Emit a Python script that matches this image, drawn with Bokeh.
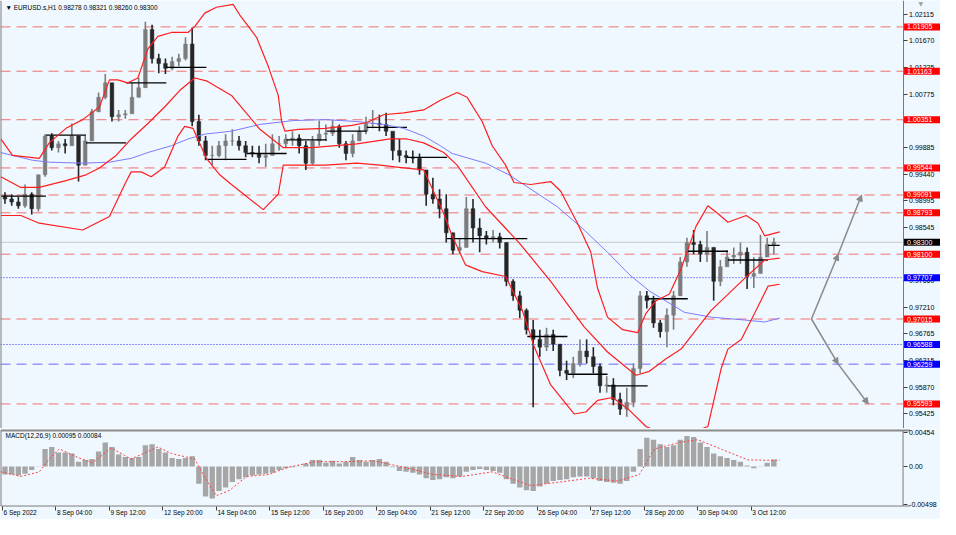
from bokeh.plotting import figure
from bokeh.layouts import column
from bokeh.models import (Range1d, FixedTicker, Label, Span, Arrow, NormalHead, PrintfTickFormatter,
                          LinearAxis)
from bokeh.embed import file_html
from bokeh.resources import INLINE

# ---------------- data (hour index 0 = 6 Sep 2022 20:00, 4-hour bars) ----------------
BAR_HOURS = 4
FIRST_OPEN = 0.99070
HIGH = [0.99138, 0.99105, 0.99056, 0.99268, 0.99138, 0.99429, 1.00110, 1.00126, 0.99997, 1.00029,
        1.00288, 1.00078, 1.00078, 1.00531, 1.00807, 1.01115, 1.00920, 1.00515, 1.00515, 1.00969,
        1.01050, 1.01990, 1.01942, 1.01455, 1.01374, 1.01407, 1.01455, 1.01731, 1.01893, 1.00434,
        1.00078, 0.99916, 0.99997, 1.00110, 1.00191, 1.00078, 0.99997, 0.99916, 0.99916, 0.99948,
        1.00110, 1.00078, 1.00110, 1.00159, 1.00110, 0.99997, 1.00078, 1.00337, 1.00272, 1.00353,
        1.00272, 0.99997, 1.00110, 1.00240, 1.00402, 1.00515, 1.00434, 1.00467, 1.00110, 1.00029,
        0.99834, 0.99834, 0.99786, 0.99462, 0.99381, 0.99187, 0.99105, 0.98457, 0.98375, 0.99056,
        0.99024, 0.98700, 0.98489, 0.98505, 0.98457, 0.98295, 0.97679, 0.97484, 0.97192, 0.96998,
        0.96836, 0.96868, 0.96836, 0.96593, 0.96317, 0.96382, 0.96674, 0.96674, 0.96544, 0.96269,
        0.96058, 0.96025, 0.95782, 0.95863, 0.96269, 0.97484, 0.97484, 0.97403, 0.96998, 0.97192,
        0.97484, 0.98052, 0.98375, 0.98505, 0.98327, 0.98489, 0.98214, 0.98003, 0.98165, 0.98214,
        0.98295, 0.98214, 0.98052, 0.98424, 0.98375, 0.98375]
LOW = [0.98943, 0.98910, 0.98862, 0.98878, 0.98765, 0.98813, 0.99397, 0.99834, 0.99802, 0.99786,
       0.99916, 0.99316, 0.99672, 0.99997, 1.00483, 1.00694, 1.00321, 1.00321, 1.00369, 1.00612,
       1.00726, 1.00888, 1.01293, 1.01131, 1.01115, 1.01180, 1.01245, 1.01342, 1.00240, 0.99916,
       0.99672, 0.99590, 0.99721, 0.99672, 0.99916, 0.99834, 0.99721, 0.99721, 0.99624, 0.99559,
       0.99753, 0.99834, 0.99883, 0.99916, 0.99786, 0.99510, 0.99590, 0.99916, 0.99997, 1.00078,
       0.99883, 0.99672, 0.99721, 0.99997, 1.00110, 1.00207, 1.00159, 1.00078, 0.99672, 0.99640,
       0.99624, 0.99624, 0.99429, 0.98910, 0.98943, 0.98700, 0.98295, 0.98100, 0.98100, 0.98214,
       0.98295, 0.98133, 0.98262, 0.98295, 0.98197, 0.97565, 0.97322, 0.97030, 0.96755, 0.95539,
       0.96382, 0.96479, 0.96479, 0.96058, 0.95993, 0.96025, 0.96220, 0.96269, 0.96106, 0.95782,
       0.95782, 0.95571, 0.95409, 0.95377, 0.95539, 0.96106, 0.97192, 0.96868, 0.96706, 0.96544,
       0.96836, 0.97403, 0.97889, 0.98100, 0.97970, 0.97970, 0.97322, 0.97565, 0.97938, 0.97938,
       0.97938, 0.97517, 0.97533, 0.97889, 0.98100, 0.98100]
CLOSE = [0.99024, 0.98975, 0.98910, 0.99105, 0.98862, 0.99429, 1.00078, 0.99883, 0.99948, 0.99916,
         1.00078, 0.99590, 0.99997, 1.00483, 1.00726, 1.00969, 1.00402, 1.00434, 1.00450, 1.00726,
         1.00888, 1.01861, 1.01374, 1.01293, 1.01212, 1.01326, 1.01374, 1.01618, 1.00321, 0.99997,
         0.99753, 0.99753, 0.99916, 0.99997, 0.99997, 0.99916, 0.99802, 0.99786, 0.99721, 0.99753,
         0.99948, 0.99948, 1.00029, 1.00045, 0.99916, 0.99624, 0.99997, 1.00110, 1.00126, 1.00240,
         0.99948, 0.99786, 0.99997, 1.00159, 1.00288, 1.00288, 1.00272, 1.00159, 0.99834, 0.99753,
         0.99721, 0.99705, 0.99510, 0.99105, 0.99024, 0.98862, 0.98457, 0.98165, 0.98214, 0.98862,
         0.98538, 0.98408, 0.98359, 0.98392, 0.98295, 0.97646, 0.97403, 0.97160, 0.96836, 0.96674,
         0.96544, 0.96755, 0.96593, 0.96155, 0.96106, 0.96269, 0.96479, 0.96382, 0.96220, 0.95896,
         0.95912, 0.95669, 0.95506, 0.95620, 0.96187, 0.97403, 0.97322, 0.96949, 0.96803, 0.97079,
         0.97403, 0.97970, 0.98295, 0.98262, 0.98100, 0.98214, 0.97646, 0.97889, 0.98052, 0.98084,
         0.98133, 0.97728, 0.97776, 0.98052, 0.98262, 0.98300]

# Bollinger bands
UP_X = [-1, 6, 22, 28, 38, 48, 58, 64, 69, 75, 81, 87, 93, 101, 111, 115, 121, 128, 138, 142, 152, 159,
        165, 167, 169, 177, 193, 209, 218, 228, 240, 252, 262, 272, 278, 287, 293, 301, 306, 316, 328,
        334, 344, 352, 356, 362, 371, 380, 385, 391, 399, 406, 415, 422, 428, 434, 445, 452, 456, 465]
UP_Y = [1.00029, 0.99753, 0.99705, 0.99964, 1.00207, 1.00353, 1.00564, 1.01018, 1.01018, 1.00969,
        1.01050, 1.01536, 1.01747, 1.01812, 1.01812, 1.01909, 1.02136, 1.02234, 1.02282, 1.02104,
        1.01731, 1.01245, 1.00758, 1.00321, 1.00159, 1.00191, 1.00207, 1.00256, 1.00305, 1.00434,
        1.00467, 1.00515, 1.00677, 1.00807, 1.00726, 1.00321, 0.99915, 0.99591, 0.99300, 0.99267,
        0.99316, 0.99154, 0.98619, 0.98132, 0.97533, 0.97046, 0.96836, 0.96787, 0.97111, 0.97322,
        0.97435, 0.97857, 0.98570, 0.98910, 0.98781, 0.98635, 0.98748, 0.98619, 0.98408, 0.98473]
MID_X = [-1, 11, 22, 38, 50, 58, 68, 77, 87, 97, 106, 115, 122, 137, 154, 168, 185, 212, 232, 242,
         252, 264, 272, 289, 309, 328, 348, 362, 379, 387, 397, 406, 424, 444, 456, 465]
MID_Y = [0.99397, 0.99218, 0.99218, 0.99332, 0.99429, 0.99543, 0.99753, 1.00029, 1.00288, 1.00564,
         1.00839, 1.01050, 1.01002, 1.00758, 1.00191, 0.99883, 0.99883, 0.99948, 1.00029, 1.00029,
         0.99964, 0.99802, 0.99591, 0.98894, 0.98294, 0.97646, 0.96884, 0.96463, 0.96074, 0.96139,
         0.96349, 0.96511, 0.97160, 0.97695, 0.98003, 0.98035]
LOW_X = [-1, 11, 22, 48, 64, 74, 77, 83, 89, 97, 105, 109, 114, 116, 122, 130, 137, 156, 165, 168,
         193, 212, 226, 236, 252, 256, 264, 269, 277, 287, 301, 311, 318, 328, 342, 349, 356, 365,
         375, 385, 393, 404, 416, 422, 430, 434, 442, 450, 458, 465]
LOW_Y = [0.98748, 0.98748, 0.98619, 0.98505, 0.98732, 0.99316, 0.99478, 0.99478, 0.99397, 0.99559,
         1.00078, 1.00240, 1.00207, 1.00078, 0.99705, 0.99429, 0.99267, 0.98846, 0.99105, 0.99591,
         0.99591, 0.99624, 0.99591, 0.99559, 0.99510, 0.99267, 0.98781, 0.98408, 0.97922, 0.97808,
         0.97727, 0.97160, 0.96560, 0.95912, 0.95425, 0.95458, 0.95652, 0.95701, 0.95490, 0.95215,
         0.95117, 0.95117, 0.95150, 0.95215, 0.96187, 0.96511, 0.96673, 0.97111, 0.97565, 0.97597]
# moving average (blue)
MA_X = [-1, 18, 28, 48, 64, 77, 87, 101, 111, 121, 137, 154, 174, 193, 212, 228, 240, 252, 262, 269,
        289, 303, 318, 332, 348, 362, 375, 387, 408, 424, 444, 456, 465]
MA_Y = [0.99802, 0.99672, 0.99640, 0.99624, 0.99640, 0.99705, 0.99802, 0.99915, 1.00029, 1.00110,
        1.00159, 1.00272, 1.00337, 1.00353, 1.00321, 1.00272, 1.00207, 1.00078, 0.99915, 0.99786,
        0.99624, 0.99429, 0.99154, 0.98894, 0.98505, 0.98132, 0.97760, 0.97484, 0.97127, 0.97046,
        0.96998, 0.96965, 0.97030]

# daily level segments (black)
DAY_START = [-1, 26, 50, 74, 98, 122, 146, 170, 194, 218, 242, 266, 290, 314, 338, 362, 386, 410, 434, 458]
DAY_END = [26, 50, 74, 98, 122, 146, 170, 194, 218, 242, 266, 290, 314, 338, 362, 386, 410, 434, 458, 465]
DAY_LEVEL = [0.99073, 1.00094, 0.99964, 1.00969, 1.01229, 0.99689, 0.99786, 1.00013, 1.00159, 1.00224,
             0.99721, 0.98359, 0.98359, 0.96722, 0.96090, 0.95895, 0.97354, 0.98149, 0.98003, 0.98246]

# horizontal levels
RED_LEVELS = [1.01905, 1.01163, 1.00351, 0.99544, 0.99091, 0.98793, 0.98100, 0.97015, 0.95593]
BLUE_DOT_LEVELS = [0.97707, 0.96588]
BLUE_DASH_LEVELS = [0.96259]
LAST_PRICE = 0.98300

# projection arrows
PROJ_X = [484, 500, 514]
PROJ_UP = [0.97015, 0.98100, 0.99091]
PROJ_DN_X = [484, 500, 518]
PROJ_DN = [0.97015, 0.96259, 0.95593]

# MACD (4-hour samples) and signal line
MACD = [-0.00106, -0.00106, -0.00118, -0.00094, -0.00045, 0.00004, 0.00235, 0.00260, 0.00187, 0.00187,
        0.00174, 0.00065, 0.00089, 0.00101, 0.00199, 0.00321, 0.00260, 0.00162, 0.00126, 0.00113,
        0.00126, 0.00284, 0.00296, 0.00235, 0.00187, 0.00113, 0.00101, 0.00113, 0.00138, -0.00228,
        -0.00399, -0.00423, -0.00326, -0.00277, -0.00204, -0.00167, -0.00143, -0.00118, -0.00106, -0.00094,
        -0.00082, -0.00045, -0.00021, -0.00009, 0.00004, 0.00040, 0.00089, 0.00089, 0.00052, 0.00077,
        0.00040, 0.00065, 0.00126, 0.00089, 0.00065, 0.00089, 0.00101, 0.00065, -0.00009, -0.00057,
        -0.00070, -0.00082, -0.00106, -0.00155, -0.00179, -0.00167, -0.00143, -0.00155, -0.00131, -0.00070,
        -0.00045, -0.00033, -0.00045, -0.00057, -0.00082, -0.00167, -0.00228, -0.00277, -0.00314, -0.00326,
        -0.00265, -0.00228, -0.00192, -0.00179, -0.00167, -0.00143, -0.00131, -0.00131, -0.00155, -0.00192,
        -0.00204, -0.00216, -0.00228, -0.00192, -0.00070, 0.00235, 0.00382, 0.00357, 0.00296, 0.00260,
        0.00284, 0.00357, 0.00406, 0.00394, 0.00321, 0.00260, 0.00174, 0.00138, 0.00113, 0.00089,
        0.00065, 0.00016, -0.00021, 0.00004, 0.00052, 0.00095]
SIG_X = [-1, 11, 22, 28, 34, 46, 54, 65, 77, 93, 101, 115, 121, 128, 136, 146, 159, 171, 187, 205,
         222, 240, 258, 275, 293, 316, 334, 351, 368, 381, 390, 405, 416, 431, 446, 458, 465]
SIG_Y = [-0.00070, -0.00131, -0.00070, 0.00101, 0.00235, 0.00113, 0.00052, 0.00248, 0.00101, 0.00260,
         0.00174, 0.00101, -0.00143, -0.00387, -0.00314, -0.00131, -0.00106, -0.00009, 0.00065, 0.00065,
         0.00077, -0.00009, -0.00106, -0.00131, -0.00070, -0.00253, -0.00204, -0.00155, -0.00192, -0.00106,
         0.00235, 0.00321, 0.00357, 0.00223, 0.00089, 0.00084, 0.00084]

# axes
PRICE_TICKS = [1.02115, 1.01670, 1.01225, 1.00775, 1.00330, 0.99885, 0.99440, 0.98995, 0.98545, 0.98105,
               0.97660, 0.97210, 0.96765, 0.96315, 0.95870, 0.95425]
MACD_TICKS = [-0.00498, 0.0, 0.00454]
MACD_TICK_LABELS = ["-0.00498", "0.00", "0.00454"]
TIME_TICKS = [0, 32, 64, 96, 128, 160, 192, 224, 256, 288, 320, 352, 384, 416, 448]
TIME_LABELS = ["6 Sep 2022", "8 Sep 04:00", "9 Sep 12:00", "12 Sep 20:00", "14 Sep 04:00", "15 Sep 12:00",
               "16 Sep 20:00", "20 Sep 04:00", "21 Sep 12:00", "22 Sep 20:00", "26 Sep 04:00", "27 Sep 12:00",
               "28 Sep 20:00", "30 Sep 04:00", "3 Oct 12:00"]
HEADER = "\u25bc EURUSD.s,H1  0.98278 0.98321 0.98260 0.98300"
MACD_HEADER = "MACD(12,26,9) 0.00095 0.00084"

# ---------------- layout geometry ----------------
X_START, X_AXIS, X_FULL = -1.18, 538.8, 561.2
X_SEP_END = 543.0
PRICE_MIN, PRICE_MAX = 0.95182, 1.02347
MACD_TOP, MACD_BOTTOM = 0.00480, -0.00524
MACD_MAX, MACD_FRAME_MIN = 0.00506, -0.00703

BG = "#F0F8FF"
FRAME = "#7A7A7A"
FONT = "Liberation Sans"
FS = "7px"
FS_SMALL = "6.5px"
RED = "#F07070"
GRAY = "#8A8A8A"
W = 940

def style_axis(ax, size=FS):
    ax.major_label_text_font = FONT
    ax.major_label_text_font_size = size
    ax.major_label_text_color = "#000000"
    ax.major_tick_out = 4
    ax.major_tick_in = 0
    ax.minor_tick_out = 0
    ax.minor_tick_in = 0
    ax.axis_line_color = FRAME
    ax.major_tick_line_color = "#404040"
    ax.major_label_standoff = 2

# ================= price pane =================
p = figure(width=W, height=428, x_range=Range1d(X_START, X_FULL),
           y_range=Range1d(PRICE_MIN, PRICE_MAX), output_backend="svg", toolbar_location=None,
           x_axis_location=None, y_axis_location=None, min_border=0,
           background_fill_color=BG, border_fill_color=BG, outline_line_color=None)
p.grid.visible = False
ya = LinearAxis(fixed_location=X_AXIS, ticker=FixedTicker(ticks=PRICE_TICKS),
                formatter=PrintfTickFormatter(format="%.5f"))
style_axis(ya)
p.add_layout(ya, "right")
p.add_layout(Span(location=X_START, dimension="height", line_color=FRAME, line_width=2))

# horizontal levels (stop at the price axis)
def hline(fig, lv, color, dash, width=1):
    fig.segment(x0=[X_START], x1=[X_AXIS], y0=[lv], y1=[lv], line_color=color, line_dash=dash,
                line_width=width)

for lv in RED_LEVELS:
    hline(p, lv, RED, "10 6")
for lv in BLUE_DOT_LEVELS:
    hline(p, lv, "#2828FF", "1 2")
for lv in BLUE_DASH_LEVELS:
    hline(p, lv, "#6A6AFF", "10 6")
hline(p, LAST_PRICE, "#C8C8C8", "solid")

# price bars (candle-like 4h bars)
n = len(CLOSE)
xc = [BAR_HOURS * k + 1.5 for k in range(n)]
opens = [FIRST_OPEN] + CLOSE[:-1]
body_top = [max(o, c) for o, c in zip(opens, CLOSE)]
body_bot = [min(o, c) for o, c in zip(opens, CLOSE)]
cols = ["#7C7C7C" if c >= o else "#262626" for o, c in zip(opens, CLOSE)]
p.segment(x0=xc, x1=xc, y0=LOW, y1=HIGH, line_color=cols, line_width=1.6)
p.vbar(x=xc, top=body_top, bottom=body_bot, width=2.2, fill_color=cols, line_color=cols, line_width=0.5)

# daily levels
p.segment(x0=DAY_START, x1=DAY_END, y0=DAY_LEVEL, y1=DAY_LEVEL, line_color="#000000", line_width=1.3)

# indicators
p.line(MA_X, MA_Y, line_color="#7C7CFF", line_width=1)
for bx, by in ((UP_X, UP_Y), (MID_X, MID_Y), (LOW_X, LOW_Y)):
    p.line(bx, by, line_color="#FF1E1E", line_width=1.2)

# projection arrows
for xs, ys in ((PROJ_X, PROJ_UP), (PROJ_DN_X, PROJ_DN)):
    for i in range(len(xs) - 1):
        p.add_layout(Arrow(end=NormalHead(size=6, fill_color=GRAY, line_color=GRAY),
                           x_start=xs[i], y_start=ys[i], x_end=xs[i + 1], y_end=ys[i + 1],
                           line_color=GRAY, line_width=1.5))

# level tags on the price axis
def tag(fig, y, text, bg):
    fig.add_layout(Label(x=X_AXIS, y=y, text=text, x_offset=1, text_align="left", text_baseline="middle",
                         text_font=FONT, text_font_size=FS, text_color="#FFFFFF",
                         background_fill_color=bg, padding=dict(left=3, right=8, top=1, bottom=1)))

for lv in RED_LEVELS:
    tag(p, lv, f"{lv:.5f}", "#FF0000")
for lv in BLUE_DOT_LEVELS + BLUE_DASH_LEVELS:
    tag(p, lv, f"{lv:.5f}", "#0000FF")
tag(p, LAST_PRICE, f"{LAST_PRICE:.5f}", "#000000")

p.add_layout(Label(x=X_START, y=PRICE_MAX, text=HEADER, x_offset=5, y_offset=-3, text_baseline="top",
                   text_font=FONT, text_font_size=FS_SMALL, text_color="#000000"))
p.add_layout(Label(x=X_FULL, y=PRICE_MAX, text="\u25bc", x_offset=-22, y_offset=1, text_baseline="top",
                   text_font="DejaVu Sans", text_font_size="6px", text_color="#A0A0A0"))

# ================= MACD pane =================
p2 = figure(width=W, height=91, x_range=p.x_range, y_range=Range1d(MACD_FRAME_MIN, MACD_MAX),
            output_backend="svg", toolbar_location=None, x_axis_location=None, y_axis_location=None,
            min_border=0, background_fill_color=BG, border_fill_color=BG, outline_line_color=None)
p2.grid.visible = False
my = LinearAxis(fixed_location=X_AXIS, ticker=FixedTicker(ticks=MACD_TICKS),
                major_label_overrides=dict(zip(MACD_TICKS, MACD_TICK_LABELS)))
style_axis(my)
my.axis_line_color = None
p2.add_layout(my, "right")

# time axis: tick marks at the true times, labels left-aligned to them
CHAR_W = {" ": 0.278, ":": 0.278, "S": 0.667, "O": 0.778, "e": 0.556, "p": 0.556, "c": 0.5, "t": 0.278}
px_per_unit = W / (X_FULL - X_START)
label_pos = [t + 0.5 * sum(CHAR_W.get(ch, 0.556) for ch in lab) * 6.5 / px_per_unit + 0.6
             for t, lab in zip(TIME_TICKS, TIME_LABELS)]
xt = LinearAxis(fixed_location=MACD_BOTTOM, ticker=FixedTicker(ticks=TIME_TICKS))
style_axis(xt)
xt.axis_line_color = None
xt.major_label_text_alpha = 0
p2.add_layout(xt, "below")
xl = LinearAxis(fixed_location=MACD_BOTTOM, ticker=FixedTicker(ticks=label_pos),
                major_label_overrides=dict(zip(label_pos, TIME_LABELS)))
style_axis(xl, FS_SMALL)
xl.axis_line_color = None
xl.major_tick_out = 0
xl.major_label_standoff = 3
p2.add_layout(xl, "below")

# pane borders
p2.segment(x0=[X_START], x1=[X_SEP_END], y0=[MACD_TOP], y1=[MACD_TOP], line_color="#8C8C8C", line_width=2)
p2.segment(x0=[X_START], x1=[X_SEP_END], y0=[MACD_BOTTOM], y1=[MACD_BOTTOM], line_color=FRAME, line_width=1)
p2.segment(x0=[X_AXIS], x1=[X_AXIS], y0=[MACD_BOTTOM], y1=[MACD_TOP], line_color=FRAME, line_width=1)
p2.segment(x0=[X_START], x1=[X_START], y0=[MACD_BOTTOM], y1=[MACD_TOP], line_color=FRAME, line_width=2)

p2.vbar(x=xc, top=MACD, bottom=0, width=3.2, fill_color="#A6A6A6", line_color=None)
p2.line(SIG_X, SIG_Y, line_color="#FF4040", line_dash="2 2", line_width=1)
p2.add_layout(Label(x=X_START, y=MACD_TOP, text=MACD_HEADER, x_offset=5, y_offset=-2, text_baseline="top",
                    text_font=FONT, text_font_size=FS_SMALL, text_color="#000000"))

layout = column(p, p2, spacing=0)
open("out.html", "w").write(file_html(layout, INLINE))
